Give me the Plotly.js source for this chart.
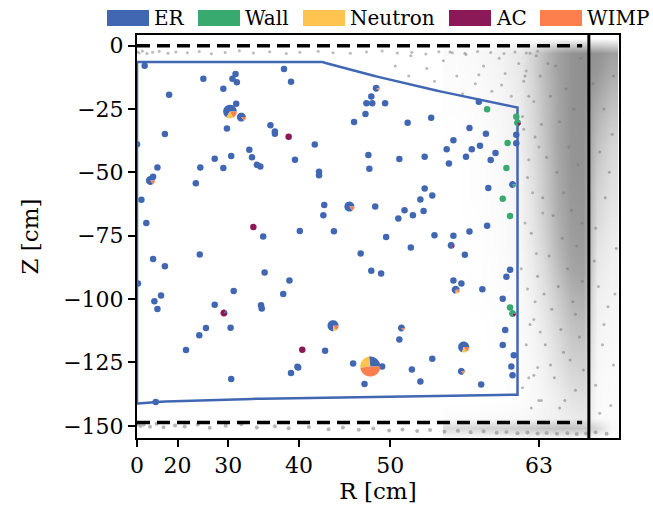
<!DOCTYPE html>
<html><head><meta charset="utf-8">
<script src="https://cdn.plot.ly/plotly-3.0.1.min.js"></script>
<style>html,body{margin:0;padding:0;background:#fff}#chart{width:653px;height:508px}</style>
</head><body><div id="chart"></div>
<script>
// ---------------- data (R in cm, Z in cm) ----------------
const classNames = ['ER','Wall','Neutron','AC','WIMP'];
const classColors = ['#4167b3','#38a96f','#fec44f','#8b1857','#fe7f4e'];

const xTickR = [0,20,30,40,50,63];
const yTickZ = [0,-25,-50,-75,-100,-125,-150];

const erR = [8.7,25.6,30.7,31.2,31.4,29.2,17.8,31.3,29.8,36.3,36.9,36.9,38.1,39.0,16.6,0.5,33.3,33.7,30.5,27.7,25.0,29.2,34.4,34.9,39.5,41.9,42.4,42.4,14.2,12.6,24.1,6.6,9.6,35.3,40.1,44.1,43.0,42.9,
48.1,47.6,48.2,49.5,47.5,46.3,51.7,53.9,58.1,57.3,58.7,61.2,61.2,55.9,55.3,57.5,58.2,59.5,57.0,59.1,55.5,53.3,50.9,47.8,47.9,58.9,53.3,54.0,52.9,48.5,51.4,52.2,53.2,50.8,58.8,49.6,54.2,55.9,57.3,52.0,
12.6,16.6,24.9,3.1,13.1,15.4,14.2,35.5,38.8,38.0,30.9,27.7,35.0,35.1,30.4,26.1,24.8,22.0,43.1,39.8,39.9,39.0,30.5,13.6,
47.0,56.9,48.1,49.1,55.9,56.6,58.4,60.7,60.4,60.1,60.3,60.1,61.0,60.8,60.9,50.9,54.0,49.2,46.2,47.4,52.1,52.9,58.3];
const erZ = [-7.9,-13.1,-13.1,-11.2,-14.4,-17.0,-19.4,-22.9,-32.7,-31.4,-33.9,-34.8,-9.2,-14.2,-34.9,-38.9,-41.1,-44.0,-43.5,-44.6,-48.1,-48.3,-47.0,-47.7,-45.0,-39.0,-49.8,-51.1,-48.1,-51.7,-54.3,-60.8,-70.0,-75.3,-73.1,-73.2,-62.9,-66.9,
-20.1,-22.7,-22.7,-22.7,-27.0,-30.1,-30.4,-28.4,-22.1,-32.5,-34.8,-35.2,-38.5,-37.3,-40.9,-40.9,-39.5,-42.4,-43.8,-45.1,-46.5,-43.8,-44.7,-43.1,-48.6,-56.2,-56.4,-59.1,-60.7,-63.5,-64.9,-66.9,-65.2,-68.2,-71.1,-75.5,-74.8,-75.0,-73.3,-79.6,
-84.2,-87.0,-82.4,-93.8,-100.8,-98.6,-103.9,-89.5,-92.7,-98.0,-96.8,-102.2,-102.4,-103.7,-111.3,-111.4,-114.3,-120.1,-120.4,-126.7,-127.0,-129.2,-131.5,-140.6,
-82.0,-82.5,-88.8,-89.9,-92.7,-93.8,-96.1,-88.4,-91.2,-99.9,-112.2,-118.1,-122.2,-126.6,-130.0,-115.9,-123.5,-126.6,-125.4,-133.5,-127.8,-132.5,-133.7];

const wallR = [58.8,61.2,60.5,60.4,60.1,60.7,60.7];
const wallZ = [-25.1,-28.1,-38.4,-48.3,-60.4,-67.2,-103.3];

const acR = [38.7,33.9,40.4];
const acZ = [-35.9,-71.6,-120.0];

// mixed-class clusters drawn as pies: position, event weight, class fractions
const pieR = [30.3,32.1,11.5,45.8,44.0,48.0,56.8,48.6,55.7,56.1,29.3,61.3,60.9,60.9,51.1,56.6];
const pieZ = [-26.0,-28.2,-53.2,-63.5,-110.5,-126.6,-118.9,-16.8,-78.8,-96.3,-105.5,-30.4,-105.7,-54.8,-111.4,-128.5];
const pieWeight = [4.4,1.9,1.9,2.4,2.9,9.5,2.9,1.15,1.15,1.5,1.15,1.15,1.15,1.15,1.15,1.15];
const pieER      = [0.66,0.85,0.85,0.85,0.75,0.27,0.70,0.90,0.85,0.75,0.15,0,0,0.80,0.85,0.85];
const pieWall    = [0,0,0,0,0,0,0,0,0,0,0,0.80,0.80,0.20,0,0];
const pieNeutron = [0.17,0,0,0,0.10,0.25,0.15,0,0,0.10,0,0,0,0,0,0];
const pieAC      = [0,0,0,0,0,0,0,0,0.15,0,0.85,0.20,0.20,0,0,0];
const pieWIMP    = [0.17,0.15,0.15,0.15,0.15,0.48,0.15,0.10,0,0.15,0,0,0,0,0.15,0.15];

// background (all events) - individual gray points
const haloR = [52,53.5,55,56.2,57,57.8,58.5,59.2,59.8,60.3,60.8,61.4,61.8,62.3,62.6,54.2,56.7,58.1,60,62,50.5,51.8,55.6,
61.8,62.2,62.5,61.9,62.8,62.1,62.6,62,62.9,61.7,63.2,62.4,63,63.3,62.7,61.6,63.1,62.2,
67.5,68.2,67.8,68.6,67.3,68.4,67.9,68.7,67.6];
const haloZ = [-4,-9,-6,-12,-3.5,-15,-8,-18,-5,-11,-20,-7,-14,-3,-22,-14,-19,-11.5,-15.5,-10,-8,-12,-2.5,
-33,-45,-58,-70,-82,-96,-108,-118,-127,-135,-140,-143,-40,-66,-101,-88,-113,-131,
-95,-103,-118,-126,-134,-142,-110,-98,-145];
const cloudR = [61.7,62.1,62.4,62.7,62.9,63.1,63.3,63.5,63.6,63.8,63.9,64.0,64.1,64.2,64.3,64.4,64.5,64.6,64.7,64.8,64.9,65.0,65.1,65.2,65.3,65.4,65.5,65.6,65.7,65.8,65.9,66.0,66.1,66.2,66.3,66.4,
62.3,62.6,63.0,63.4,63.7,64.6,61.9,62.2,62.8,63.2,63.9,64.9,65.8,66.3,
67.1,67.6,68.0,68.5,67.3,68.8,67.9,68.3,67.2,68.6];
const cloudZ = [-28,-52,-74,-36,-91,-12,-60,-118,-44,-83,-20,-104,-67,-131,-8,-50,-95,-30,-112,-76,-58,-140,-17,-88,-40,-124,-65,-101,-25,-136,-79,-47,-115,-5,-93,-128,
-110,-130,-140,-98,-7,-143,-12,-20,-4,-31,-126,-121,-106,-70,
-15,-42,-60,-35,-72,-80,-25,-50,-85,-12];
const topBandR = [1.8,4.6,7.3,9.9,12.4,14.8,17.5,19.6,22.3,24.8,27.1,29.5,31.8,33.9,36.2,38.4,40.1,42.3,44.0,45.9,47.6,49.2,50.7,52.1,53.4,54.6,55.8,56.9,58.0,59.1,60.2,61.1,62.0,62.9];
const topBandZ = [-2.4,-2.9,-2.1,-3.1,-2.6,-2.2,-3.0,-2.5,-2.8,-2.3,-3.2,-2.7,-2.0,-2.9,-2.4,-3.1,-2.6,-2.2,-2.8,-3.0,-2.5,-2.1,-2.9,-2.6,-3.3,-2.4,-2.8,-3.0,-2.3,-2.7,-3.1,-2.5,-2.9,-2.2];
const botBandR = [2.5,5.8,8.1,11.3,13.9,16.2,19.4,21.7,24.5,26.8,29.6,32.1,34.4,36.9,38.7,41.2,43.5,45.1,46.8,48.3,49.9,51.2,52.6,53.8,55.1,56.3,57.4,58.5,59.6,60.4,61.3,62.1,62.9,63.6,64.4,65.2,65.9,66.6,67.3,68.1];
const botBandZ = [-149.3,-150.1,-149.6,-150.4,-149.2,-150.6,-149.9,-150.3,-149.5,-150.8,-150.0,-149.4,-150.7,-150.2,-151.0,-150.5,-151.3,-150.7,-151.5,-151.1,-151.8,-151.4,-152.0,-151.6,-152.3,-151.9,-152.5,-152.1,-152.7,-152.4,-152.9,-152.6,-153.0,-152.8,-153.1,-152.9,-153.2,-153.0,-152.5,-153.1];

// background density of the dense wall cloud (rows: densZ, cols: densR)
const densR = [56,58,60,61.5,62.5,63.5,64.5,65.5,66.4,67.4,68.4];
const densZ = [3,-3,-10,-20,-30,-40,-50,-60,-70,-80,-90,-100,-110,-120,-130,-140,-147,-151,-155];
const density = [
[0,0,0,0,0,0,0,0,0,0,0],
[0.04,0.06,0.12,0.2,0.38,0.6,0.8,0.92,0.95,0.92,0.82],
[0.03,0.05,0.1,0.2,0.38,0.6,0.8,0.92,0.95,0.88,0.72],
[0.02,0.04,0.08,0.18,0.35,0.56,0.78,0.92,0.95,0.75,0.58],
[0.01,0.03,0.07,0.15,0.33,0.54,0.77,0.92,0.94,0.62,0.44],
[0.01,0.02,0.06,0.14,0.3,0.51,0.77,0.91,0.93,0.52,0.34],
[0,0.02,0.05,0.12,0.28,0.48,0.74,0.9,0.92,0.44,0.28],
[0,0.02,0.05,0.1,0.25,0.46,0.72,0.88,0.9,0.36,0.23],
[0,0.01,0.04,0.09,0.23,0.42,0.68,0.85,0.88,0.3,0.18],
[0,0.01,0.04,0.08,0.2,0.37,0.63,0.81,0.85,0.23,0.14],
[0,0.01,0.03,0.07,0.16,0.31,0.54,0.75,0.79,0.18,0.11],
[0,0.01,0.02,0.05,0.13,0.25,0.44,0.63,0.68,0.13,0.09],
[0,0,0.02,0.04,0.1,0.2,0.36,0.53,0.57,0.1,0.07],
[0,0,0.01,0.03,0.08,0.15,0.29,0.43,0.47,0.08,0.05],
[0,0,0.01,0.03,0.06,0.12,0.22,0.33,0.37,0.06,0.04],
[0,0,0.01,0.02,0.05,0.09,0.15,0.23,0.26,0.05,0.03],
[0.03,0.04,0.05,0.06,0.08,0.11,0.13,0.17,0.2,0.05,0.03],
[0.32,0.36,0.4,0.44,0.47,0.5,0.52,0.52,0.5,0.32,0.06],
[0,0,0,0,0,0,0,0,0,0,0]
];

// fiducial volume boundary vertices
const fvR = [0,42.8,61.3,61.3,0];
const fvZ = [-6.5,-6.5,-24.4,-137.7,-141.4];

// detector reference lines
const gateZ = 0, cathodeZ = -148.7, refLineEndR = 66.3, wallLineR = 66.8;

// ---------------- rendering ----------------
const W = 653, H = 508;
const M = {l:137, r:34, t:35, b:70};
const FONT = 'DejaVu Serif';
const sq = a => a.map(r => r*r);

// boundary is straight in R-Z space, drawn on an R^2 axis
const fvX = [], fvY = [];
const vr = fvR.concat([fvR[0]]), vz = fvZ.concat([fvZ[0]]);
for (let i = 0; i < vr.length-1; i++) {
  const n = 40;
  for (let k = 0; k < n; k++) {
    const t = k/n;
    const r = vr[i] + (vr[i+1]-vr[i])*t, z = vz[i] + (vz[i+1]-vz[i])*t;
    fvX.push(r*r); fvY.push(z);
  }
}
fvX.push(vr[vr.length-1]**2); fvY.push(vz[vz.length-1]);

const gray = 'rgba(140,140,140,0.6)';
const traces = [
  {type:'heatmap', x:sq(densR), y:densZ, z:density, zsmooth:'best', zmin:0, zmax:1,
   colorscale:[[0,'#ffffff'],[1,'#8a8a8a']], showscale:false, hoverinfo:'skip'},
  {type:'scatter', mode:'markers', x:sq(haloR), y:haloZ, marker:{size:3, color:gray}, hoverinfo:'skip'},
  {type:'scatter', mode:'markers', x:sq(cloudR), y:cloudZ, marker:{size:3, color:'rgba(120,120,120,0.55)'}, hoverinfo:'skip'},
  {type:'scatter', mode:'markers', x:sq(topBandR), y:topBandZ, marker:{size:3, color:gray}, hoverinfo:'skip'},
  {type:'scatter', mode:'markers', x:sq(botBandR), y:botBandZ, marker:{size:4, color:'rgba(150,150,150,0.7)'}, hoverinfo:'skip'},
  {type:'scatter', mode:'lines', x:fvX, y:fvY, line:{color:classColors[0], width:2.5}, hoverinfo:'skip'},
  {type:'scatter', mode:'markers', name:'ER', x:sq(erR), y:erZ, marker:{size:6.5, color:classColors[0]}},
  {type:'scatter', mode:'markers', name:'Wall', x:sq(wallR), y:wallZ, marker:{size:6.5, color:classColors[1]}},
  {type:'scatter', mode:'markers', name:'AC', x:sq(acR), y:acZ, marker:{size:6.5, color:classColors[3]}}
];

const shapes = [];
function wedgePath(r, a0, a1) {
  const n = Math.max(2, Math.ceil((a1-a0)/(2*Math.PI)*64));
  let d = 'M0,0';
  for (let k = 0; k <= n; k++) {
    const a = a0 + (a1-a0)*k/n;
    d += ' L' + (r*Math.cos(a)).toFixed(2) + ',' + (r*Math.sin(a)).toFixed(2);
  }
  return d + ' Z';
}
const pieFr = [pieER, pieWall, pieNeutron, pieAC, pieWIMP];
for (let i = 0; i < pieR.length; i++) {
  const rad = 3.25*Math.sqrt(pieWeight[i]);
  let tot = 0; for (let c = 0; c < 5; c++) tot += pieFr[c][i];
  let a = 0;
  for (let c = 0; c < 5; c++) {
    const f = pieFr[c][i]/tot;
    if (f <= 0) continue;
    const a1 = a + f*2*Math.PI;
    shapes.push({type:'path', xref:'x', yref:'y', xsizemode:'pixel', ysizemode:'pixel',
      xanchor: pieR[i]*pieR[i], yanchor: pieZ[i], path: wedgePath(rad, a, a1),
      fillcolor: classColors[c], line:{width:0}, layer:'above'});
    a = a1;
  }
}
// reference lines
[gateZ, cathodeZ].forEach(z => shapes.push({type:'line', xref:'x', yref:'y', x0:0, x1:refLineEndR**2, y0:z, y1:z,
  line:{color:'#000', width:3.5, dash:'13px,7px'}, layer:'above'}));
shapes.push({type:'line', xref:'x', yref:'paper', x0:wallLineR**2, x1:wallLineR**2, y0:0, y1:1,
  line:{color:'#000', width:3}, layer:'above'});

// manual legend (patches + labels) placed above the plot
const pw = W - M.l - M.r, ph = H - M.t - M.b;
const px2x = p => (p - M.l)/pw, px2y = p => (H - M.b - p)/ph;
const legendPatchX = [107,198,303,449,540];
const annotations = [];
classNames.forEach((nm, i) => {
  shapes.push({type:'rect', xref:'paper', yref:'paper', x0:px2x(legendPatchX[i]), x1:px2x(legendPatchX[i]+42),
    y0:px2y(26), y1:px2y(10), fillcolor:classColors[i], line:{width:0}});
  annotations.push({xref:'paper', yref:'paper', x:px2x(legendPatchX[i]+45), y:px2y(18), xanchor:'left', yanchor:'middle',
    text:nm, showarrow:false, font:{family:FONT, size:20, color:'#000'}});
});

const axisCommon = {showline:true, linewidth:2, linecolor:'#000', mirror:true, ticks:'outside', ticklen:7, tickwidth:2,
  tickcolor:'#000', showgrid:false, zeroline:false, tickfont:{family:FONT, size:22, color:'#000'}};
const layout = {
  width:W, height:H, margin:M, paper_bgcolor:'#fff', plot_bgcolor:'#fff', showlegend:false,
  xaxis: Object.assign({}, axisCommon, {range:[0, 4760], tickmode:'array', tickvals:sq(xTickR), ticktext:xTickR.map(String),
    title:{text:'R [cm]', font:{family:FONT, size:23, color:'#000'}, standoff:5}}),
  yaxis: Object.assign({}, axisCommon, {range:[-154.8, 4.2], tickmode:'array', tickvals:yTickZ,
    title:{text:'Z [cm]', font:{family:FONT, size:23, color:'#000'}, standoff:18}}),
  shapes, annotations
};
Plotly.newPlot('chart', traces, layout, {staticPlot:true, displayModeBar:false});
</script></body></html>
